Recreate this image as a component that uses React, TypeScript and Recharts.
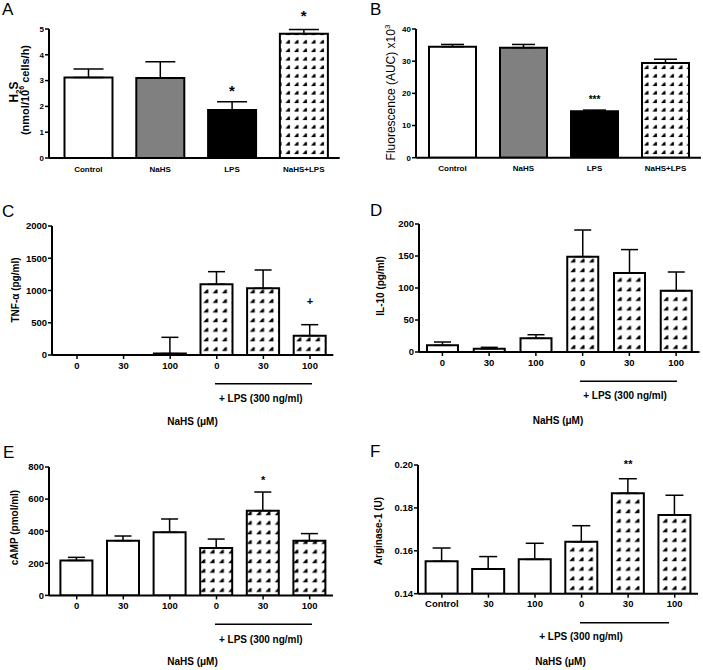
import React from 'react'
import { BarChart, Bar, XAxis, YAxis, ErrorBar, Cell, ReferenceDot } from 'recharts'

// A: H2S production
const groupsAB = ['Control', 'NaHS', 'LPS', 'NaHS+LPS']
const h2s = [3.12, 3.1, 1.86, 4.82]
const h2sErr = [0.33, 0.63, 0.32, 0.16]
const h2sSig = ['', '', '*', '*']
const h2sSigY = [0, 0, 2.66, 5.54]

// B: fluorescence
const fluo = [34.5, 34.2, 14.4, 29.4]
const fluoErr = [0.7, 1.0, 0.4, 1.2]
const fluoSig = ['', '', '***', '']
const fluoSigY = [0, 0, 18.2, 0]

// C-F: NaHS dose, without / with LPS
const doseKeys = ['c0', 'c30', 'c100', 'l0', 'l30', 'l100']
const doseLabels = ['0', '30', '100', '0', '30', '100']
const argLabels = ['Control', '30', '100', '0', '30', '100']

const tnf = [0, 0, 22, 1096, 1034, 300]
const tnfErr = [0, 0, 252, 196, 284, 170]
const tnfSig = ['', '', '', '', '', '+']
const tnfSigY = [0, 0, 0, 0, 0, 853]

const il10 = [10.4, 5.2, 21.4, 149, 123.4, 95.8]
const il10Err = [5.2, 2.1, 5.6, 41.6, 36.6, 29.2]

const camp = [218, 341, 393, 295, 528, 341]
const campErr = [19, 29, 83, 56, 116, 44]
const campSig = ['', '', '', '', '*', '']
const campSigY = [0, 0, 0, 0, 721, 0]

const arg = [0.1551, 0.1515, 0.156, 0.1642, 0.1868, 0.1767]
const argErr = [0.0062, 0.0058, 0.0075, 0.0075, 0.0068, 0.0092]
const argSig = ['', '', '', '', '**', '']
const argSigY = [0, 0, 0, 0, 0.2009, 0]

const fillsAB = ['#ffffff', '#808080', '#000000', 'url(#dotsA)']
const fillsDose = ['#ffffff', '#ffffff', '#ffffff', 'url(#dotsC)', 'url(#dotsC)', 'url(#dotsC)']

type PanelProps = {
  x0: number
  x1: number
  yTop: number
  yBot: number
  keys: string[]
  labels: string[]
  values: number[]
  errs: number[]
  sig?: string[]
  sigY?: number[]
  domain: [number, number]
  ticks: number[]
  tickFmt?: (v: number) => string
  fills: string[]
  barSize: number
  capW: number
  padL: number
  tickFont: number
  xTicks: boolean
  sigFont: number
}

function Panel(p: PanelProps) {
  const yW = 46
  const mTop = 26
  const xH = 26
  const mRight = 2
  const left = p.x0 - yW
  const top = p.yTop - mTop
  const width = p.x1 - left + mRight
  const height = p.yBot - top + xH
  const data = p.keys.map((k, i) => ({ k, v: p.values[i], e: [0, p.errs[i]] }))
  const tickStyle = { fontSize: p.tickFont, fontWeight: 'bold', fill: '#000' }

  return (
    <div style={{ position: 'absolute', left, top }}>
      <BarChart width={width} height={height} data={data} margin={{ top: mTop, right: mRight, bottom: 0, left: 0 }}>
        <XAxis
          dataKey="k"
          height={xH}
          interval={0}
          padding={{ left: p.padL, right: 0 }}
          tickFormatter={(k) => p.labels[p.keys.indexOf(k)]}
          tick={tickStyle}
          axisLine={{ stroke: '#000', strokeWidth: 2 }}
          tickLine={p.xTicks ? { stroke: '#000', strokeWidth: 1.5 } : false}
          tickSize={4}
          tickMargin={p.xTicks ? 3 : 4}
        />
        <YAxis
          type="number"
          width={yW}
          domain={p.domain}
          ticks={p.ticks}
          interval={0}
          allowDataOverflow
          tickFormatter={p.tickFmt}
          tick={tickStyle}
          axisLine={{ stroke: '#000', strokeWidth: 2 }}
          tickLine={{ stroke: '#000', strokeWidth: 1.5 }}
          tickSize={4}
          tickMargin={1}
        />
        <Bar dataKey="v" barSize={p.barSize} stroke="#000" strokeWidth={2} isAnimationActive={false}>
          {data.map((d, i) => (
            <Cell key={d.k} fill={p.fills[i]} />
          ))}
          <ErrorBar dataKey="e" width={p.capW} stroke="#000" strokeWidth={1.5} direction="y" isAnimationActive={false} />
        </Bar>
        {(p.sig || []).map((s, i) =>
          s ? (
            <ReferenceDot
              key={'sig' + i}
              x={p.keys[i]}
              y={p.sigY![i]}
              r={0}
              ifOverflow="visible"
              shape={(props: any) => (
                <text
                  x={props.cx}
                  y={props.cy + p.sigFont * 0.42}
                  textAnchor="middle"
                  fontSize={p.sigFont}
                  fontWeight="bold"
                  fill="#000"
                >
                  {s}
                </text>
              )}
            />
          ) : null
        )}
      </BarChart>
    </div>
  )
}

function Rot({ x, y, size, bold, children }: { x: number; y: number; size: number; bold?: boolean; children: React.ReactNode }) {
  return (
    <text
      transform={`translate(${x},${y}) rotate(-90)`}
      textAnchor="middle"
      fontSize={size}
      fontWeight={bold ? 'bold' : 'normal'}
      fill="#000"
    >
      {children}
    </text>
  )
}

function LpsMark({ x1, x2, lineY, labelX, labelY, axisX, axisY }: { x1: number; x2: number; lineY: number; labelX: number; labelY: number; axisX: number; axisY: number }) {
  return (
    <g fontSize={10} fontWeight="bold" fill="#000">
      <line x1={x1} x2={x2} y1={lineY} y2={lineY} stroke="#000" strokeWidth={1.5} />
      <text x={labelX} y={labelY} textAnchor="middle">+ LPS (300 ng/ml)</text>
      <text x={axisX} y={axisY} textAnchor="middle">NaHS (μM)</text>
    </g>
  )
}

export default function App() {
  return (
    <div
      style={{
        position: 'absolute',
        left: 0,
        top: 0,
        width: 703,
        height: 670,
        overflow: 'hidden',
        background: '#fff',
        fontFamily: '"Liberation Sans", Arial, sans-serif',
      }}
    >
      <svg width={0} height={0} style={{ position: 'absolute' }}>
        <defs>
          <pattern id="dotsA" patternUnits="userSpaceOnUse" width={8.5} height={8.5}>
            <rect width={8.5} height={8.5} fill="#fff" />
            <polygon points="2,6.5 5,3 6.5,3 6.5,6.5" fill="#000" />
          </pattern>
          <pattern id="dotsC" patternUnits="userSpaceOnUse" width={9.3} height={9.6}>
            <rect width={9.3} height={9.6} fill="#fff" />
            <polygon points="2,7 5.5,3 7,3 7,7" fill="#000" />
          </pattern>
        </defs>
      </svg>

      <Panel
        x0={49.3} x1={340} yTop={29} yBot={158}
        keys={groupsAB} labels={groupsAB} values={h2s} errs={h2sErr}
        sig={h2sSig} sigY={h2sSigY}
        domain={[0, 5]} ticks={[0, 1, 2, 3, 4, 5]}
        fills={fillsAB} barSize={48} capW={15} padL={3.5}
        tickFont={8} xTicks={false} sigFont={15}
      />
      <Panel
        x0={416} x1={701} yTop={29} yBot={157.7}
        keys={groupsAB} labels={groupsAB} values={fluo} errs={fluoErr}
        sig={fluoSig} sigY={fluoSigY}
        domain={[0, 40]} ticks={[0, 10, 20, 30, 40]}
        fills={fillsAB} barSize={47} capW={11.5} padL={1}
        tickFont={8} xTicks={false} sigFont={10}
      />
      <Panel
        x0={52} x1={333.3} yTop={226} yBot={355}
        keys={doseKeys} labels={doseLabels} values={tnf} errs={tnfErr}
        sig={tnfSig} sigY={tnfSigY}
        domain={[0, 2000]} ticks={[0, 500, 1000, 1500, 2000]}
        fills={fillsDose} barSize={32} capW={8.5} padL={1.7}
        tickFont={9.5} xTicks sigFont={11}
      />
      <Panel
        x0={419} x1={699.5} yTop={224.3} yBot={352.3}
        keys={doseKeys} labels={doseLabels} values={il10} errs={il10Err}
        domain={[0, 200]} ticks={[0, 50, 100, 150, 200]}
        fills={fillsDose} barSize={31} capW={8.5} padL={0}
        tickFont={9.5} xTicks sigFont={11}
      />
      <Panel
        x0={49.3} x1={333.3} yTop={467.3} yBot={595.7}
        keys={doseKeys} labels={doseLabels} values={camp} errs={campErr}
        sig={campSig} sigY={campSigY}
        domain={[0, 800]} ticks={[0, 200, 400, 600, 800]}
        fills={fillsDose} barSize={32} capW={8.5} padL={4.4}
        tickFont={9.5} xTicks sigFont={11}
      />
      <Panel
        x0={418} x1={698} yTop={465.3} yBot={594}
        keys={doseKeys} labels={argLabels} values={arg} errs={argErr}
        sig={argSig} sigY={argSigY}
        domain={[0.14, 0.2]} ticks={[0.14, 0.16, 0.18, 0.2]} tickFmt={(v) => v.toFixed(2)}
        fills={fillsDose} barSize={32} capW={9} padL={0.6}
        tickFont={9.5} xTicks sigFont={11}
      />

      <svg width={703} height={670} style={{ position: 'absolute', left: 0, top: 0, pointerEvents: 'none' }}>
        <g fontSize={17} fill="#000">
          <text x={2} y={15}>A</text>
          <text x={370} y={15}>B</text>
          <text x={2} y={217}>C</text>
          <text x={370} y={216}>D</text>
          <text x={3} y={458}>E</text>
          <text x={370} y={457}>F</text>
        </g>

        <Rot x={18} y={92} size={12} bold>
          H<tspan fontSize={8} dy={3}>2</tspan><tspan dy={-3}>S</tspan>
        </Rot>
        <Rot x={29} y={90} size={11} bold>
          (nmol/10<tspan fontSize={7} dy={-5}>6</tspan><tspan dy={5}> cells/h)</tspan>
        </Rot>
        <Rot x={394.5} y={92.5} size={12}>
          Fluorescence (AUC) x10<tspan fontSize={8} dy={-5}>3</tspan>
        </Rot>
        <Rot x={18.7} y={290} size={10} bold>TNF-α (pg/ml)</Rot>
        <Rot x={383.5} y={286} size={10} bold>IL-10 (pg/ml)</Rot>
        <Rot x={18.3} y={527.5} size={10} bold>cAMP (pmol/ml)</Rot>
        <Rot x={382.3} y={531} size={10} bold>Arginase-1 (U)</Rot>

        <LpsMark x1={215} x2={312} lineY={383.7} labelX={260.8} labelY={401.6} axisX={192.5} axisY={425.3} />
        <LpsMark x1={580} x2={677} lineY={381.3} labelX={625} labelY={398.6} axisX={558} axisY={423.6} />
        <LpsMark x1={215} x2={312} lineY={624.3} labelX={260.8} labelY={642.6} axisX={192.5} axisY={665.3} />
        <LpsMark x1={580} x2={669} lineY={622.7} labelX={581} labelY={639.6} axisX={560.5} axisY={665.3} />
      </svg>
    </div>
  )
}
